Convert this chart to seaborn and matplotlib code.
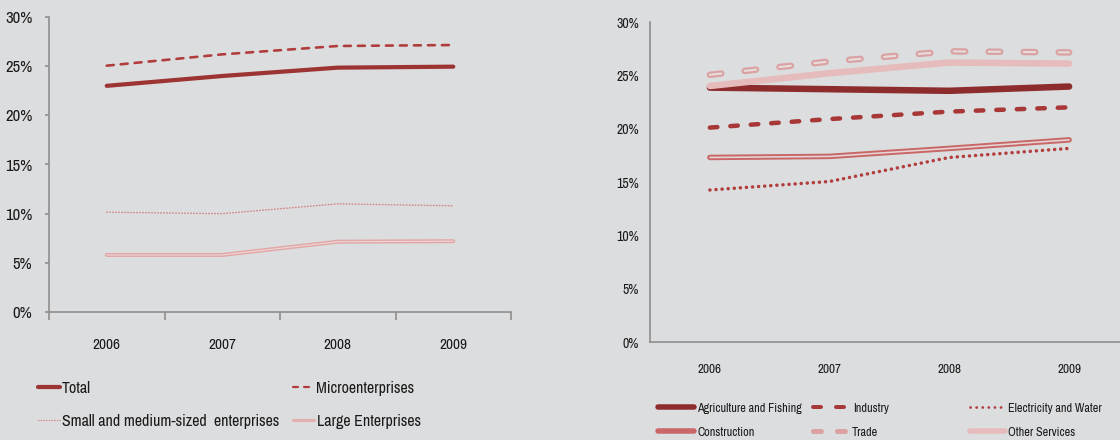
import matplotlib
matplotlib.use("Agg")
import matplotlib.pyplot as plt
from matplotlib.lines import Line2D
from matplotlib.ticker import FuncFormatter
import numpy as np
import pandas as pd
import seaborn as sns

# ---- data -----------------------------------------------------------------
years = ["2006", "2007", "2008", "2009"]

# share by enterprise size (%)
total = [23.0, 24.0, 24.85, 24.95]
micro = [25.05, 26.2, 27.05, 27.15]
sme = [10.15, 10.0, 11.0, 10.8]
large = [5.8, 5.8, 7.15, 7.2]

# share by sector (%)
agriculture = [23.85, 23.7, 23.55, 23.95]
industry = [20.1, 20.9, 21.6, 22.0]
electricity = [14.25, 15.05, 17.3, 18.15]
construction = [17.3, 17.4, 18.15, 18.95]
trade = [25.05, 26.3, 27.25, 27.15]
other_services = [24.0, 25.2, 26.2, 26.1]

left_series = {
    "Total": total,
    "Microenterprises": micro,
    "Small and medium-sized  enterprises": sme,
    "Large Enterprises": large,
}
right_series = {
    "Agriculture and Fishing": agriculture,
    "Industry": industry,
    "Electricity and Water": electricity,
    "Construction": construction,
    "Trade": trade,
    "Other Services": other_services,
}

# ---- style ----------------------------------------------------------------
BG = "#dcdddf"
AXIS = "#8e8e8e"
TXT = "#1a1a1a"
W, H = 1120, 440

sns.set_theme(style="ticks", rc={"axes.facecolor": BG, "figure.facecolor": BG})
plt.rcParams["font.family"] = ["Liberation Sans Narrow", "Archivo Narrow",
                               "Roboto Condensed", "DejaVu Sans"]
plt.rcParams["lines.scale_dashes"] = False
plt.rcParams["lines.solid_capstyle"] = "round"
plt.rcParams["lines.dash_capstyle"] = "round"


def pt(px):
    """pixels -> points at 100 dpi"""
    return px * 0.72


def frame(x0, y_top, x1, y_bottom):
    return [x0 / W, 1 - y_bottom / H, (x1 - x0) / W, (y_bottom - y_top) / H]


fig = plt.figure(figsize=(W / 100, H / 100), dpi=100)
fig.patch.set_facecolor(BG)

df_left = pd.DataFrame({"year": years, **left_series})
df_right = pd.DataFrame({"year": years, **right_series})


def draw(ax, df, col, color, lw, dashes=None, inner=None, inner_lw=None):
    ls = "-" if dashes is None else (0, dashes)
    sns.lineplot(data=df, x="year", y=col, ax=ax, color=color, lw=pt(lw),
                 linestyle=ls, sort=False)
    if inner is not None:
        sns.lineplot(data=df, x="year", y=col, ax=ax, color=inner,
                     lw=pt(inner_lw), linestyle=ls, sort=False)


# ---- left panel: by enterprise size ----------------------------------------
axL = fig.add_axes(frame(49, 17, 511, 312))
draw(axL, df_left, "Large Enterprises", "#e2a6a6", 4, inner="#ecd5d5", inner_lw=1.2)
draw(axL, df_left, "Small and medium-sized  enterprises", "#d58888", 1.5,
     dashes=(pt(0.6), pt(2.4)))
draw(axL, df_left, "Microenterprises", "#b13c3c", 2.6, dashes=(pt(7), pt(7)))
draw(axL, df_left, "Total", "#9d3434", 4.2)

# ---- right panel: by sector -------------------------------------------------
axR = fig.add_axes(frame(650, 22, 1129, 342))
draw(axR, df_right, "Agriculture and Fishing", "#8d2c2c", 6.5)
draw(axR, df_right, "Industry", "#a83838", 4.5, dashes=(pt(7.5), pt(13)))
draw(axR, df_right, "Electricity and Water", "#b23d3d", 3.5,
     dashes=(pt(0.1), pt(6)))
draw(axR, df_right, "Construction", "#c96767", 5.5, inner="#e6d6d6", inner_lw=1.6)
draw(axR, df_right, "Trade", "#daa2a2", 6.5, dashes=(pt(11.5), pt(23.5)),
     inner="#e8dede", inner_lw=2)
draw(axR, df_right, "Other Services", "#e6bbbb", 6.5)

pct = FuncFormatter(lambda v, _: f"{v:.0f}%")
for ax, fs_y, fs_x, xpad in ((axL, 12, 11, 19), (axR, 10, 9.5, 16)):
    ax.set_xlim(-0.5, 3.5)
    ax.set_ylim(0, 30)
    ax.set_yticks(np.arange(0, 31, 5))
    ax.yaxis.set_major_formatter(pct)
    ax.set_xticks(np.arange(-0.5, 4, 1.0), labels=[""] * 5)
    ax.set_xticks(range(len(years)), labels=years, minor=True)
    ax.tick_params(axis="x", which="minor", length=0, pad=xpad,
                   labelsize=fs_x, labelcolor=TXT)
    ax.tick_params(axis="y", labelsize=fs_y, labelcolor=TXT, color=AXIS)
    ax.set_xlabel("")
    ax.set_ylabel("")
    for s in ("top", "right"):
        ax.spines[s].set_visible(False)
    for s in ("left", "bottom"):
        ax.spines[s].set_color(AXIS)
        ax.spines[s].set_linewidth(1.2)

axL.tick_params(axis="x", which="major", length=6, width=1.2, color=AXIS)
axL.tick_params(axis="y", length=3, width=1.2, pad=9)
axR.tick_params(axis="x", which="major", length=0)
axR.tick_params(axis="y", length=0, pad=8)


# ---- legends ---------------------------------------------------------------
def entry(label, x_px, y_px, fs, hlen_px, pad_px, **line_kw):
    handle = Line2D([], [], **line_kw)
    fs_px = fs / 0.72
    leg = fig.legend(handles=[handle], labels=[label], loc="center left",
                     bbox_to_anchor=(x_px / W, 1 - y_px / H), frameon=False,
                     borderpad=0, borderaxespad=0, fontsize=fs,
                     handlelength=hlen_px / fs_px, handletextpad=pad_px / fs_px,
                     labelcolor=TXT)
    return leg


fsL = 11.5
entry("Total", 38, 388, fsL, 22, 2, color="#9d3434", lw=pt(4.2))
entry("Microenterprises", 293, 388, fsL, 19, 4, color="#b13c3c", lw=pt(2.2),
      linestyle=(0, (pt(5), pt(6))))
entry("Small and medium-sized  enterprises", 38, 421, fsL, 22, 2,
      color="#d58888", lw=pt(1.3), linestyle=(0, (pt(0.5), pt(2.2))))
entry("Large Enterprises", 293, 421, fsL, 21, 3, color="#e2b0b0", lw=pt(3.2))

fsR = 8.8
entry("Agriculture and Fishing", 658, 408, fsR, 36, 3, color="#8d2c2c", lw=pt(5.5))
entry("Industry", 813, 408, fsR, 37, 3, color="#a83838", lw=pt(4),
      linestyle=(0, (pt(8), pt(15))))
entry("Electricity and Water", 970, 408, fsR, 35, 3, color="#b23d3d", lw=pt(2.8),
      linestyle=(0, (pt(0.1), pt(6))))
entry("Construction", 658, 432, fsR, 36, 3, color="#c96767", lw=pt(5.5))
entry("Trade", 813, 432, fsR, 37, 2, color="#daa2a2", lw=pt(5),
      linestyle=(0, (pt(8), pt(16))))
entry("Other Services", 970, 432, fsR, 35, 3, color="#e6bbbb", lw=pt(5.5))

fig.savefig("out.png", dpi=100, facecolor=BG)
